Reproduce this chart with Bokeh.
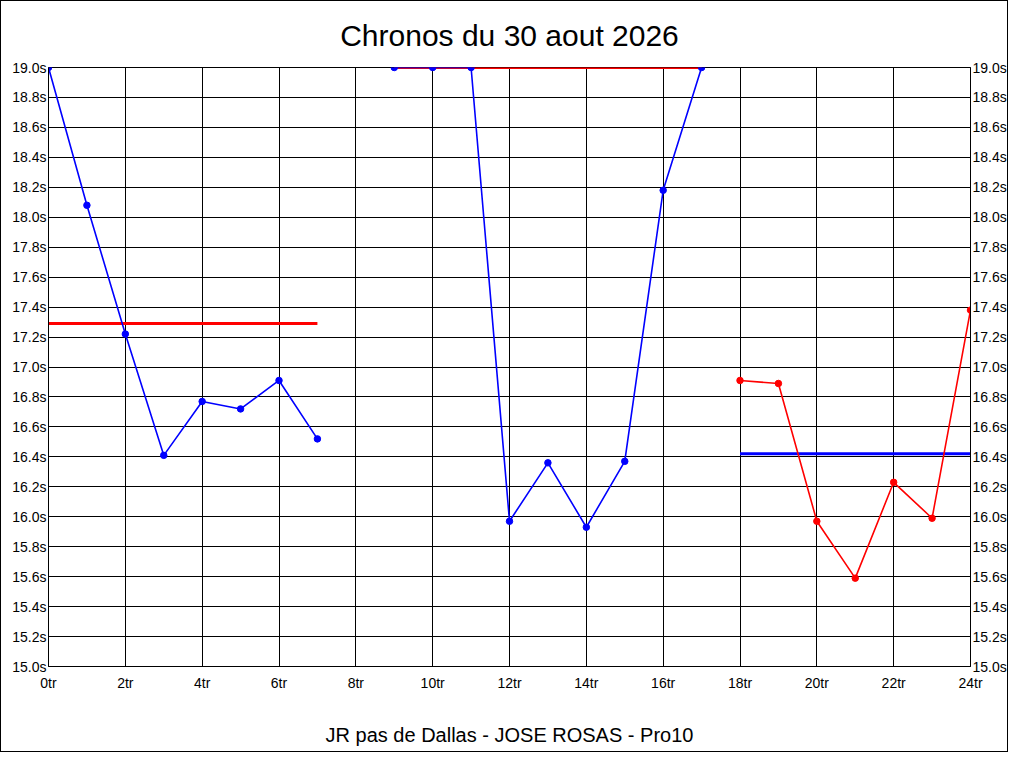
from bokeh.plotting import figure
from bokeh.models import Range1d, FixedTicker, PrintfTickFormatter, LinearAxis
from bokeh.embed import file_html
from bokeh.resources import INLINE

title_text = "Chronos du 30 aout 2026"
footer_text = "JR pas de Dallas - JOSE ROSAS - Pro10"

# series (lap number -> time in seconds)
laps_a = [0, 1, 2, 3, 4, 5, 6, 7]
times_a = [19.0, 18.08, 17.22, 16.41, 16.77, 16.72, 16.91, 16.52]

laps_b = [9, 10, 11, 12, 13, 14, 15, 16, 17]
times_b = [19.0, 19.0, 19.0, 15.97, 16.36, 15.93, 16.37, 18.18, 19.0]

laps_c = [18, 19, 20, 21, 22, 23, 24]
times_c = [16.91, 16.89, 15.97, 15.59, 16.23, 15.99, 17.38]

series_colors = ["#0000ff", "#0000ff", "#ff0000"]

# average lines
avg_starts = [0, 9, 18]
avg_ends = [7, 17, 24]
avg_values = [17.29, 19.0, 16.42]
avg_colors = ["#ff0000", "#ff0000", "#0000ff"]

x_ticks = [0, 2, 4, 6, 8, 10, 12, 14, 16, 18, 20, 22, 24]
y_ticks = [15.0, 15.2, 15.4, 15.6, 15.8, 16.0, 16.2, 16.4, 16.6, 16.8, 17.0,
           17.2, 17.4, 17.6, 17.8, 18.0, 18.2, 18.4, 18.6, 18.8, 19.0]

FONT = "Liberation Sans"

p = figure(width=1008, height=752, output_backend="svg", toolbar_location=None,
           x_range=Range1d(0, 24), y_range=Range1d(15.0, 19.0),
           min_border_left=47, min_border_right=38, min_border_top=64, min_border_bottom=87,
           title=title_text)
p.styles = {"border": "1px solid black", "box-sizing": "border-box"}

p.title.align = "center"
p.title.text_font = FONT
p.title.text_font_size = "30px"
p.title.text_font_style = "normal"
p.title.text_color = "black"
p.title.standoff = 31
p.title.offset = 4

p.background_fill_color = "white"
p.border_fill_color = "white"
p.outline_line_color = "black"

p.xgrid.ticker = FixedTicker(ticks=x_ticks)
p.ygrid.ticker = FixedTicker(ticks=y_ticks)
for g in (p.xgrid, p.ygrid):
    g.grid_line_color = "black"
    g.grid_line_alpha = 1.0
    g.grid_line_width = 1

p.add_layout(LinearAxis(), "right")

for ax in p.yaxis:
    ax.ticker = FixedTicker(ticks=y_ticks)
    ax.formatter = PrintfTickFormatter(format="%.1fs")
    ax.major_label_standoff = 2
for ax in p.xaxis:
    ax.ticker = FixedTicker(ticks=x_ticks)
    ax.formatter = PrintfTickFormatter(format="%dtr")
    ax.major_label_standoff = 8
    ax.axis_label = footer_text
    ax.axis_label_text_font = FONT
    ax.axis_label_text_font_size = "20px"
    ax.axis_label_text_font_style = "normal"
    ax.axis_label_text_color = "black"
    ax.axis_label_standoff = 30

for ax in p.xaxis + p.yaxis:
    ax.major_tick_in = 0
    ax.major_tick_out = 0
    ax.minor_tick_in = 0
    ax.minor_tick_out = 0
    ax.axis_line_color = "black"
    ax.major_label_text_font = FONT
    ax.major_label_text_font_size = "14px"
    ax.major_label_text_color = "black"

p.segment(x0=avg_starts, y0=avg_values, x1=avg_ends, y1=avg_values,
          line_color=avg_colors, line_width=3)

for laps, times, col in ((laps_a, times_a, series_colors[0]),
                         (laps_b, times_b, series_colors[1]),
                         (laps_c, times_c, series_colors[2])):
    p.line(laps, times, line_color=col, line_width=1.6)
    p.scatter(laps, times, size=6.5, fill_color=col, line_color=col)

open("out.html", "w").write(file_html(p, INLINE))
